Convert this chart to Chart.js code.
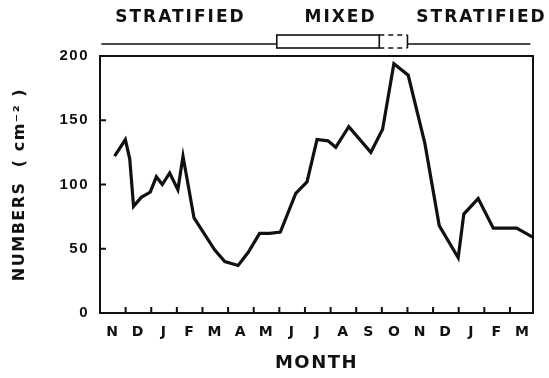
<!DOCTYPE html>
<html>
<head>
<meta charset="utf-8">
<script src="https://cdn.jsdelivr.net/npm/chart.js@4/dist/chart.umd.min.js"></script>
<style>
  html, body { margin: 0; padding: 0; background: #fff; }
  canvas { display: block; }
</style>
</head>
<body>
<canvas id="c" width="549" height="378"></canvas>
<script>
// Sampling dates, in months counted from 1 November
const monthPos = [0.57, 0.99, 1.16, 1.31, 1.61, 1.96, 2.20, 2.43, 2.72, 3.04, 3.24, 3.67,
  4.48, 4.87, 5.39, 5.78, 6.23, 6.62, 7.04, 7.64, 8.08, 8.47, 8.90, 9.20, 9.71,
  10.57, 11.03, 11.47, 12.03, 12.68, 13.24, 13.98, 14.20, 14.76, 15.35, 16.26, 16.89];
// Numbers per cm^2
const numbers = [122, 135, 120, 83, 90, 94, 106, 100, 109, 96, 122, 74,
  49, 40, 37, 47, 62, 62, 63, 93, 102, 135, 134, 129, 145,
  125, 143, 194, 185, 132, 68, 43, 77, 89, 66, 66, 59];

// Month letters, one per month (Nov .. Mar of the following year)
const monthLabels = ['N', 'D', 'J', 'F', 'M', 'A', 'M', 'J', 'J', 'A', 'S', 'O', 'N', 'D', 'J', 'F', 'M'];
const monthBoundaries = [1, 2, 3, 4, 5, 6, 7, 8, 9, 10, 11, 12, 13, 14, 15, 16];
const yTickValues = [0, 50, 100, 150, 200];
const yInnerTicks = [50, 100, 150];

// Water-column state band across the top
const seasonLabels = ['STRATIFIED', 'MIXED', 'STRATIFIED'];
const seasonLabelPos = [3.1, 9.35, 14.85];
const bandExtent = [0.05, 16.8];
const mixedSpan = [6.9, 10.9];
const mixedUncertainEnd = 12.0;

const ink = '#111';
const fontFamily = '"DejaVu Sans", "Liberation Sans", sans-serif';
const digitFamily = '"Liberation Sans", Arial, sans-serif';

const frameAndMarks = {
  id: 'frameAndMarks',
  beforeDraw(chart) {
    const ctx = chart.ctx;
    ctx.save();
    ctx.fillStyle = '#fff';
    ctx.fillRect(0, 0, chart.width, chart.height);
    ctx.restore();
    ctx.letterSpacing = '1.5px';
  },
  afterDraw(chart) {
    const { ctx, chartArea: a, scales: { x, y } } = chart;
    ctx.save();
    ctx.letterSpacing = '0px';
    ctx.strokeStyle = ink;
    ctx.lineWidth = 2;
    ctx.strokeRect(a.left, a.top, a.right - a.left, a.bottom - a.top);

    // tick marks pointing into the plot
    ctx.beginPath();
    monthBoundaries.forEach(m => {
      const px = x.getPixelForValue(m);
      ctx.moveTo(px, a.bottom);
      ctx.lineTo(px, a.bottom - 6);
    });
    yInnerTicks.forEach(v => {
      const py = y.getPixelForValue(v);
      ctx.moveTo(a.left, py);
      ctx.lineTo(a.left + 6, py);
    });
    ctx.stroke();

    // season band
    const lineY = a.top - 12;
    const boxTop = a.top - 21;
    const boxBottom = a.top - 8;
    const x0 = x.getPixelForValue(bandExtent[0]);
    const x1 = x.getPixelForValue(mixedSpan[0]);
    const x2 = x.getPixelForValue(mixedSpan[1]);
    const x3 = x.getPixelForValue(mixedUncertainEnd);
    const x4 = x.getPixelForValue(bandExtent[1]);
    ctx.lineWidth = 1.6;
    ctx.beginPath();
    ctx.moveTo(x0, lineY); ctx.lineTo(x1, lineY);
    ctx.moveTo(x3, lineY); ctx.lineTo(x4, lineY);
    ctx.stroke();
    ctx.strokeRect(x1, boxTop, x2 - x1, boxBottom - boxTop);
    ctx.beginPath();
    ctx.moveTo(x3, boxTop); ctx.lineTo(x3, boxBottom);
    ctx.stroke();
    ctx.setLineDash([5, 4]);
    ctx.beginPath();
    ctx.moveTo(x2, boxTop); ctx.lineTo(x3, boxTop);
    ctx.moveTo(x2, boxBottom); ctx.lineTo(x3, boxBottom);
    ctx.stroke();
    ctx.setLineDash([]);

    ctx.fillStyle = ink;
    ctx.font = 'bold 17px ' + fontFamily;
    ctx.letterSpacing = '2px';
    ctx.textAlign = 'center';
    ctx.textBaseline = 'middle';
    seasonLabels.forEach((t, i) => {
      ctx.fillText(t, x.getPixelForValue(seasonLabelPos[i]) + 1, 18);
    });
    ctx.restore();
  }
};

new Chart(document.getElementById('c'), {
  type: 'line',
  data: {
    datasets: [{
      data: monthPos.map((m, i) => ({ x: m, y: numbers[i] })),
      borderColor: ink,
      borderWidth: 3.2,
      pointRadius: 0,
      tension: 0,
      fill: false
    }]
  },
  options: {
    responsive: false,
    animation: false,
    events: [],
    layout: { padding: { top: 56, right: 16, left: 0, bottom: 0 } },
    plugins: { legend: { display: false }, tooltip: { enabled: false } },
    scales: {
      x: {
        type: 'linear',
        min: 0,
        max: 16.9,
        afterBuildTicks(axis) {
          axis.ticks = monthLabels.map((_, i) => ({ value: i + 0.5 }));
        },
        afterFit(axis) { axis.height = 65; },
        grid: { display: false, drawTicks: false },
        border: { display: false },
        ticks: {
          autoSkip: false,
          maxRotation: 0,
          padding: 11,
          color: ink,
          font: { family: fontFamily, size: 14, weight: 'bold' },
          callback: (v, i) => monthLabels[i]
        },
        title: {
          display: true,
          text: 'MONTH',
          color: ink,
          font: { family: fontFamily, size: 18, weight: 'bold' },
          padding: { top: 0, bottom: 4 }
        }
      },
      y: {
        min: 0,
        max: 200,
        afterBuildTicks(axis) {
          axis.ticks = yTickValues.map(v => ({ value: v }));
        },
        afterFit(axis) { axis.width = 100; },
        grid: { display: false, drawTicks: false },
        border: { display: false },
        ticks: {
          padding: 11,
          color: ink,
          font: { family: digitFamily, size: 15, weight: 'bold' }
        },
        title: {
          display: true,
          text: 'NUMBERS  ( cm\u207B\u00B2 )',
          color: ink,
          font: { family: fontFamily, size: 16, weight: 'bold' },
          padding: { top: 10, bottom: 0 }
        }
      }
    }
  },
  plugins: [frameAndMarks]
});
</script>
</body>
</html>
